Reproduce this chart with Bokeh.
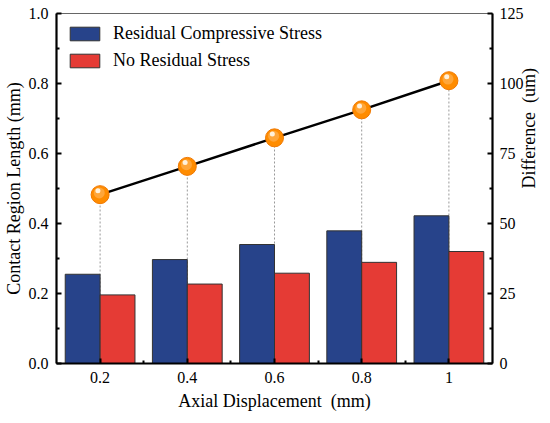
import math
from bokeh.plotting import figure
from bokeh.models import (LinearAxis, Range1d, FixedTicker, Legend, LegendItem,
                          ColumnDataSource, PrintfTickFormatter)
from bokeh.transform import dodge
from bokeh.embed import file_html
from bokeh.resources import INLINE

# ---- data ----
x_vals = [0.2, 0.4, 0.6, 0.8, 1.0]
x_labels = ["0.2", "0.4", "0.6", "0.8", "1"]
residual = [0.255, 0.297, 0.340, 0.379, 0.422]
no_residual = [0.196, 0.227, 0.258, 0.289, 0.320]
difference = [60.3, 70.4, 80.6, 90.6, 101.0]

left_ticks = [0.0, 0.2, 0.4, 0.6, 0.8, 1.0]
left_minor = [0.1, 0.3, 0.5, 0.7, 0.9]
right_ticks = [0, 25, 50, 75, 100, 125]
right_minor = [12.5, 37.5, 62.5, 87.5, 112.5]
x_minor = [0.3, 0.5, 0.7, 0.9]

FONT = "Liberation Serif"
BLUE = "#27438A"
RED = "#E53B35"
ORANGE = "#FF8C00"

src = ColumnDataSource(dict(x=x_vals, res=residual, nores=no_residual,
                            diff=difference, zero=[0] * len(x_vals)))

p = figure(frame_width=436, frame_height=350,
           x_range=Range1d(0.1, 1.1), y_range=Range1d(0, 1),
           output_backend="svg", toolbar_location=None,
           min_border_left=48, min_border_right=50,
           min_border_top=13, min_border_bottom=44)
p.extra_y_ranges = {"diff": Range1d(0, 125)}

p.xgrid.visible = False
p.ygrid.visible = False
p.outline_line_color = "#666666"
p.outline_line_width = 1
p.background_fill_color = "white"
p.border_fill_color = "white"

# drop lines (behind bars)
p.segment(x0='x', y0='zero', x1='x', y1='diff', source=src, y_range_name="diff",
          line_color="#999999", line_dash="2 2", line_width=1)

# bars
r_res = p.vbar(x=dodge('x', -0.04, range=p.x_range), width=0.08, top='res', source=src,
               fill_color=BLUE, line_color="#333333", line_width=1)
r_nores = p.vbar(x=dodge('x', 0.04, range=p.x_range), width=0.08, top='nores', source=src,
                 fill_color=RED, line_color="#333333", line_width=1)

# difference line + markers
p.line(x='x', y='diff', source=src, y_range_name="diff", line_color="black", line_width=2.5)
p.scatter(x='x', y='diff', source=src, y_range_name="diff", size=18,
          fill_color=ORANGE, line_color="#F07800", line_width=1)
p.scatter(x=dodge('x', -0.002, range=p.x_range), y=dodge('diff', 0.6, range=p.extra_y_ranges["diff"]),
          source=src, y_range_name="diff", size=11, fill_color="#FFA63A", line_color=None)
p.scatter(x=dodge('x', -0.005, range=p.x_range), y=dodge('diff', 1.4, range=p.extra_y_ranges["diff"]),
          source=src, y_range_name="diff", size=5, fill_color="#FFF1DC", line_color=None)

# axes styling
def style_axis(ax):
    ax.axis_line_color = "black"
    ax.axis_line_width = 2.2
    ax.major_tick_line_color = "black"
    ax.major_tick_line_width = 2
    ax.minor_tick_line_color = "black"
    ax.minor_tick_line_width = 2
    ax.major_tick_in = 5
    ax.major_tick_out = 0
    ax.minor_tick_in = 3
    ax.minor_tick_out = 0
    ax.major_label_text_font = FONT
    ax.major_label_text_font_size = "16px"
    ax.major_label_text_color = "black"
    ax.axis_label_text_font = FONT
    ax.axis_label_text_font_size = "18px"
    ax.axis_label_text_font_style = "normal"
    ax.axis_label_text_color = "black"

xa = p.xaxis[0]
xa.ticker = FixedTicker(ticks=x_vals, minor_ticks=x_minor)
xa.major_label_overrides = dict(zip(x_vals, x_labels))
xa.axis_label = "Axial Displacement\u00a0\u00a0(mm)"
style_axis(xa)
xa.major_label_standoff = 8
xa.axis_label_standoff = 5

ya = p.yaxis[0]
ya.ticker = FixedTicker(ticks=left_ticks, minor_ticks=left_minor)
ya.formatter = PrintfTickFormatter(format="%.1f")
ya.axis_label = "Contact Region Length (mm)"
style_axis(ya)
ya.major_label_standoff = 8
ya.axis_label_standoff = 2

ra = LinearAxis(y_range_name="diff", axis_label="Difference\u00a0\u00a0(um)")
ra.ticker = FixedTicker(ticks=right_ticks, minor_ticks=right_minor)
style_axis(ra)
ra.major_label_standoff = 7
ra.axis_label_standoff = 2
ra.axis_label_orientation = math.pi / 2
p.add_layout(ra, "right")

legend = Legend(items=[LegendItem(label="Residual Compressive Stress", renderers=[r_res]),
                       LegendItem(label="No Residual Stress", renderers=[r_nores])],
                location="top_left")
legend.margin = 0
legend.padding = 10
legend.glyph_width = 37
legend.glyph_height = 17
legend.label_height = 17
legend.spacing = 6
legend.label_standoff = 10
legend.label_text_font = FONT
legend.label_text_font_size = "18px"
legend.label_text_color = "black"
legend.border_line_alpha = 0
legend.background_fill_alpha = 0
p.add_layout(legend)

open("out.html", "w").write(file_html(p, INLINE))
